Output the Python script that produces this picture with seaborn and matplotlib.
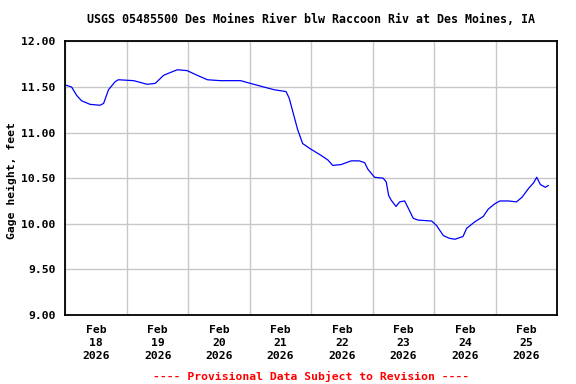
import pandas as pd
import matplotlib
matplotlib.use("Agg")
import matplotlib.pyplot as plt
import matplotlib.dates as mdates
import seaborn as sns

# days since Feb 18 2026 00:00 and gage height (feet)
days = [0.01, 0.10, 0.18, 0.26, 0.40, 0.56, 0.62, 0.70, 0.81, 0.86,
        1.11, 1.33, 1.46, 1.60, 1.82, 1.98, 2.14, 2.31, 2.52, 2.85,
        3.01, 3.23, 3.40, 3.59, 3.64, 3.70, 3.78, 3.86, 3.99, 4.16,
        4.27, 4.35, 4.49, 4.65, 4.78, 4.87, 4.92, 5.03, 5.17, 5.22,
        5.26, 5.30, 5.38, 5.44, 5.52, 5.58, 5.66, 5.74, 5.96, 6.04,
        6.15, 6.25, 6.34, 6.47, 6.53, 6.66, 6.80, 6.88, 6.99, 7.07,
        7.21, 7.34, 7.43, 7.54, 7.62, 7.67, 7.73, 7.81, 7.86]
height = [11.52, 11.50, 11.41, 11.35, 11.31, 11.30, 11.32, 11.47, 11.56, 11.58,
          11.57, 11.53, 11.54, 11.63, 11.69, 11.68, 11.63, 11.58, 11.57, 11.57,
          11.54, 11.50, 11.47, 11.45, 11.38, 11.23, 11.03, 10.88, 10.82, 10.75,
          10.70, 10.64, 10.65, 10.69, 10.69, 10.67, 10.60, 10.51, 10.50, 10.46,
          10.31, 10.26, 10.19, 10.24, 10.25, 10.17, 10.06, 10.04, 10.03, 9.98,
          9.87, 9.84, 9.83, 9.86, 9.95, 10.02, 10.08, 10.16, 10.22, 10.25,
          10.25, 10.24, 10.29, 10.39, 10.45, 10.51, 10.43, 10.40, 10.42]

title = "USGS 05485500 Des Moines River blw Raccoon Riv at Des Moines, IA"
ylabel = "Gage height, feet"
note = "---- Provisional Data Subject to Revision ----"

start = pd.Timestamp("2026-02-18")
df = pd.DataFrame({"time": start + pd.to_timedelta(days, unit="D"), "height": height})

sns.set_style("white")
plt.rcParams["font.family"] = ["DejaVu Sans Mono"]
plt.rcParams["font.weight"] = "bold"
plt.rcParams["text.color"] = "black"
plt.rcParams["axes.labelcolor"] = "black"
plt.rcParams["xtick.color"] = "black"
plt.rcParams["ytick.color"] = "black"

fig = plt.figure(figsize=(5.76, 3.84), dpi=100)
ax = fig.add_axes([0.1137, 0.180, 0.967 - 0.1137, 0.892 - 0.180])

sns.lineplot(data=df, x="time", y="height", color="#0000ff", linewidth=0.9, ax=ax)

ax.set_xlim(start, start + pd.Timedelta(days=8))
ax.set_ylim(9.0, 12.0)
ax.set_yticks([9.0, 9.5, 10.0, 10.5, 11.0, 11.5, 12.0])
ax.set_yticklabels([f"{v:.2f}" for v in ax.get_yticks()], fontsize=8.2, fontweight="bold")

noons = [start + pd.Timedelta(hours=12 + 24 * i) for i in range(8)]
ax.set_xticks(noons)
ax.set_xticklabels([d.strftime("%b\n%d\n%Y") for d in noons], fontsize=8.2,
                   fontweight="bold", linespacing=1.4)
ax.xaxis.set_minor_locator(mdates.DayLocator())
ax.tick_params(axis="both", which="both", length=0)
ax.tick_params(axis="y", pad=7)
ax.tick_params(axis="x", pad=7)

ax.grid(True, axis="y", which="major", color="#c8c8c8", linewidth=1)
ax.grid(True, axis="x", which="minor", color="#c8c8c8", linewidth=1)
ax.grid(False, axis="x", which="major")

for s in ax.spines.values():
    s.set_color("black")
    s.set_linewidth(1.3)

ax.set_xlabel("")
ax.set_ylabel(ylabel, fontsize=8.2, fontweight="bold")
ax.yaxis.set_label_coords(-0.098, 0.49)
ax.set_title(title, fontsize=8.4, fontweight="bold", pad=13)

fig.text(311 / 576, 1 - 376 / 384, note, color="#ff0000", fontsize=8.2,
         fontweight="bold", ha="center", va="center")

fig.savefig("out.png", dpi=100)
